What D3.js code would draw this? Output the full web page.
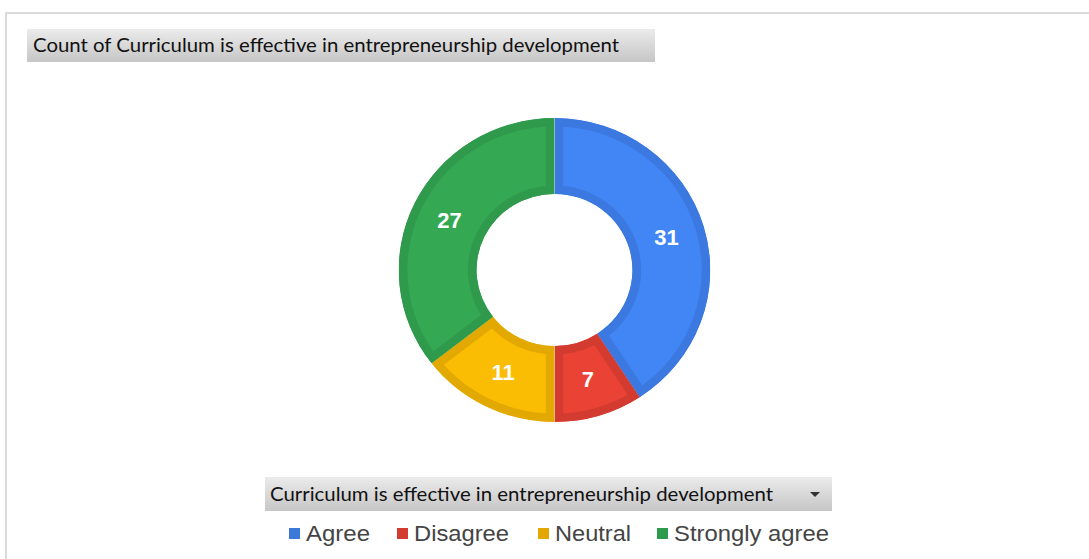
<!DOCTYPE html>
<html><head><meta charset="utf-8">
<script src="https://cdn.jsdelivr.net/npm/d3@7"></script>
<style>body{margin:0;background:#fff}svg{display:block}</style>
</head><body>
<svg id="c" width="1089" height="559"></svg>
<script>
const categories = ["Agree","Disagree","Neutral","Strongly agree"];
const values = [31, 7, 11, 27];
const fills = ["#4285F4","#EA4335","#FBBC04","#34A853"];
const borders = ["#3B79E0","#D43B30","#E3A903","#2F9A4C"];
const legendColors = ["#3C78D8","#D33B30","#E2A800","#2E9A4B"];
const titleText = "Count of Curriculum is effective  in entrepreneurship development";
const filterText = "Curriculum is effective  in entrepreneurship development";

const svg = d3.select("#c");
const defs = svg.append("defs");
const g1 = defs.append("linearGradient").attr("id","gbar").attr("x1",0).attr("y1",0).attr("x2",0).attr("y2",1);
g1.append("stop").attr("offset","0%").attr("stop-color","#ebebeb");
g1.append("stop").attr("offset","100%").attr("stop-color","#c6c6c6");

// frame
svg.append("line").attr("x1",6).attr("x2",1089).attr("y1",13).attr("y2",13).attr("stroke","#dadada").attr("stroke-width",2);
svg.append("line").attr("x1",6).attr("x2",6).attr("y1",12).attr("y2",559).attr("stroke","#dadada").attr("stroke-width",2);

// title bar
svg.append("rect").attr("x",27).attr("y",29).attr("width",628).attr("height",33).attr("fill","url(#gbar)");
svg.append("text").attr("x",33).attr("y",52).attr("font-family","Lato, 'Open Sans', sans-serif").attr("font-size",19)
  .attr("fill","#111").attr("textLength",586).attr("lengthAdjust","spacingAndGlyphs").text(titleText);

// donut
const cx = 554.5, cy = 270, R = 152, r = 76, sx = 1.025;
const pie = d3.pie().sort(null).value(d => d)(values);
const arc = d3.arc().innerRadius(r).outerRadius(R);
const g = svg.append("g").attr("transform",`translate(${cx},${cy}) scale(${sx},1)`);
pie.forEach((p,i) => {
  const id = "clip"+i;
  g.append("clipPath").attr("id",id).append("path").attr("d",arc(p));
  g.append("path").attr("d",arc(p)).attr("fill",fills[i])
    .attr("stroke",borders[i]).attr("stroke-width",17).attr("stroke-linejoin","miter").attr("clip-path",`url(#${id})`);
});
const labelArc = d3.arc().innerRadius((R+r)/2).outerRadius((R+r)/2);
pie.forEach((p,i) => {
  const [x,y] = labelArc.centroid(p);
  svg.append("text").attr("x",cx + x*sx).attr("y",cy + y).attr("dy","0.36em").attr("text-anchor","middle")
    .attr("font-family","'Liberation Sans', Arial, sans-serif").attr("font-weight","bold").attr("font-size",22)
    .attr("fill","#fff").text(values[i]);
});

// filter bar
svg.append("rect").attr("x",265).attr("y",477).attr("width",567).attr("height",34).attr("fill","url(#gbar)");
svg.append("text").attr("x",270).attr("y",501).attr("font-family","Lato, 'Open Sans', sans-serif").attr("font-size",19)
  .attr("fill","#111").attr("textLength",503).attr("lengthAdjust","spacingAndGlyphs").text(filterText);
svg.append("path").attr("d","M810,492 L820,492 L815,497 Z").attr("fill","#333");

// legend
const legendX = [289, 397, 538, 657];
const legendW = [64, 95, 76, 155];
const lg = svg.append("g");
categories.forEach((c,i) => {
  lg.append("rect").attr("x",legendX[i]).attr("y",528).attr("width",11).attr("height",11).attr("fill",legendColors[i]);
  lg.append("text").attr("x",legendX[i]+17).attr("y",541).attr("font-family","'Liberation Sans', Arial, sans-serif")
    .attr("font-size",22).attr("fill","#444").attr("textLength",legendW[i]).attr("lengthAdjust","spacingAndGlyphs").text(c);
});
</script>
</body></html>
